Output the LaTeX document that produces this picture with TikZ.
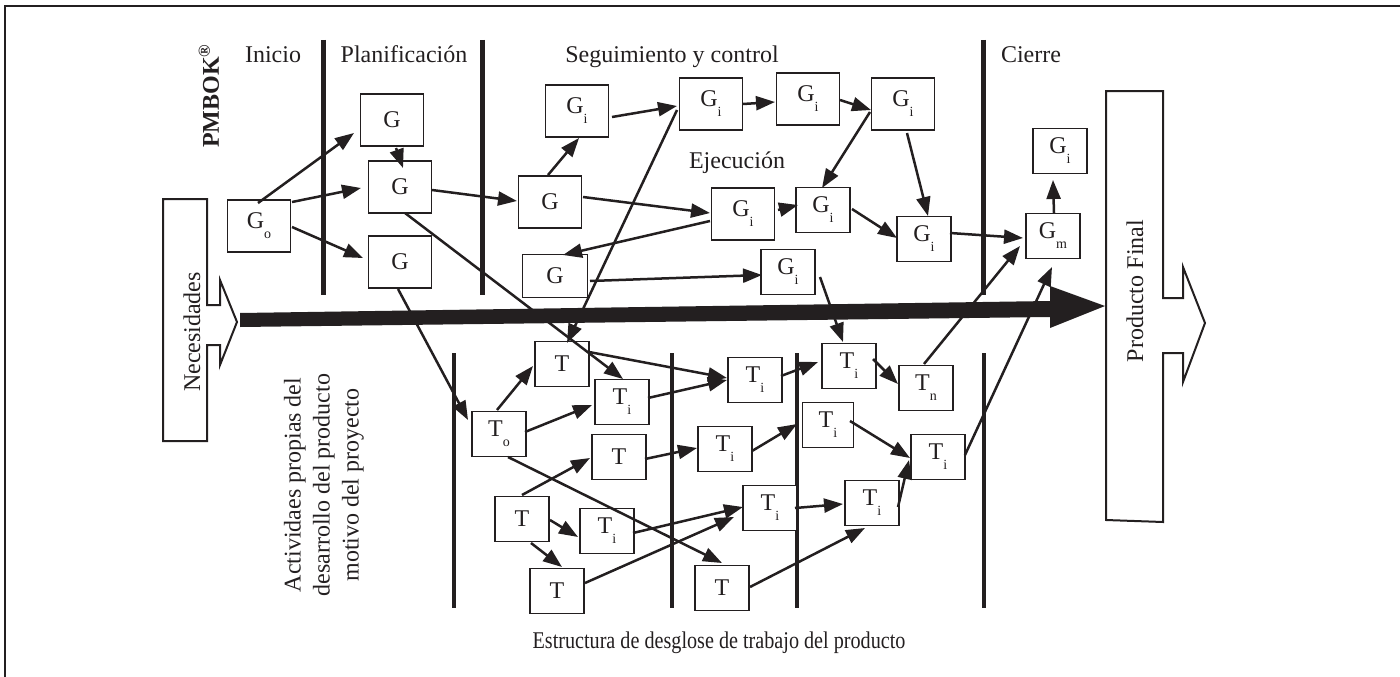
\documentclass[tikz,border=0pt]{standalone}
\usepackage{fontspec}
\setmainfont{Liberation Serif}
\usetikzlibrary{arrows.meta,calc}
\definecolor{ink}{RGB}{35,31,32}
% small lowered index letter inside a box (G_i, T_o, ...)
\newcommand\lowsub[1]{\raisebox{-10pt}{\fontsize{14}{14}\selectfont #1}}

\begin{document}
\begin{tikzpicture}[x=1pt,y=-1pt,
  box/.style={draw=ink, line width=1.9pt, fill=white, inner sep=0pt, text=ink,
              font=\fontsize{24}{24}\selectfont},
  bigbox/.style={box, minimum width=63pt, minimum height=52pt},
  smallbox/.style={box, minimum width=54pt, minimum height=45pt},
  flow/.style={draw=ink, line width=2.5pt, -{Triangle[length=19pt,width=14pt]}},
  phase/.style={draw=ink, line width=5pt},
  lowphase/.style={draw=ink, line width=4.5pt},
  lbl/.style={font=\fontsize{24}{24}\selectfont, text=ink, inner sep=0pt},
  blockarrow/.style={draw=ink, line width=2pt, line join=miter, fill=white}
]
\useasboundingbox (0,0) rectangle (1400,677);

% outer frame (top and left rule)
\draw[ink, line width=1.5pt] (5,677) -- (5,6) -- (1400,6);

% ---------- phase separators ----------
\draw[phase] (323,40) -- (323,295);
\draw[phase] (482,40) -- (482,295);
\draw[phase] (983,40) -- (983,295);
\draw[lowphase] (454,353) -- (454,608);
\draw[lowphase] (672,353) -- (672,608);
\draw[lowphase] (797,353) -- (797,608);
\draw[lowphase] (984,353) -- (984,608);

% ---------- input and output block arrows ----------
\draw[blockarrow] (163,199) -- (207,199) -- (207,305) -- (220,305) -- (220,280)
  -- (237,322) -- (220,365) -- (220,345) -- (207,345) -- (207,441) -- (163,441) -- cycle;
\node[lbl, rotate=90] (nec) at (192,332) {Necesidades};

\draw[blockarrow] (1106,91) -- (1163,91) -- (1163,298) -- (1183,298) -- (1183,267)
  -- (1205,323) -- (1183,382) -- (1183,353) -- (1163,353) -- (1163,522) -- (1106,520) -- cycle;
\node[lbl, rotate=90] (pf) at (1135,291) {Producto Final};

% ---------- main flow arrow ----------
\fill[ink] (240,313) -- (1050,301) -- (1050,286) -- (1105,306) -- (1050,328)
  -- (1050,317) -- (240,327) -- cycle;

% ---------- labels ----------
\node[lbl, rotate=90, font=\fontsize{24}{24}\selectfont\bfseries] (pmbok) at (209,96) {PMBOK\textsuperscript{®}};
\node[lbl, anchor=base] (ini) at (273,63) {Inicio};
\node[lbl, anchor=base] (plan) at (404,63) {Planificación};
\node[lbl, anchor=base] (seg) at (672,63) {Seguimiento y control};
\node[lbl, anchor=base] (cie) at (1031,63) {Cierre};
\node[lbl, anchor=base] (eje) at (737,168) {Ejecución};
\node[lbl, anchor=base] (edt) at (719,648) {\scalebox{0.84}[1]{Estructura de desglose de trabajo del producto}};
\node[lbl, rotate=90, align=center, font=\fontsize{24}{29}\selectfont] (act) at (324,485)
  {Actividaes propias del\\desarrollo del producto\\motivo del proyecto};

% ---------- management boxes ----------
\node[bigbox] (go)  at (259,226) {G\lowsub{o}};
\node[bigbox] (gp1) at (392,120) {G};
\node[bigbox] (gp2) at (400,187) {G};
\node[bigbox] (gp3) at (400,262) {G};
\node[bigbox] (ga)  at (577,111) {G\lowsub{i}};
\node[bigbox] (gb)  at (711,104) {G\lowsub{i}};
\node[bigbox] (gc)  at (808,99)  {G\lowsub{i}};
\node[bigbox] (gd)  at (903,104) {G\lowsub{i}};
\node[bigbox] (ge)  at (550,202) {G};
\node[bigbox] (gf)  at (743,214) {G\lowsub{i}};
\node[box, minimum width=65pt, minimum height=43pt] (gk) at (555,276) {G};
\node[smallbox] (gg) at (823,210) {G\lowsub{i}};
\node[smallbox] (gh) at (924,239) {G\lowsub{i}};
\node[smallbox] (gl) at (788,272) {G\lowsub{i}};
\node[smallbox] (gm) at (1053,236) {G\lowsub{m}};
\node[smallbox] (gn) at (1060,151) {G\lowsub{i}};

% ---------- product task boxes ----------
\node[smallbox] (to)  at (499,434) {T\lowsub{o}};
\node[smallbox] (t1)  at (562,364) {T};
\node[smallbox] (t2)  at (622,402) {T\lowsub{i}};
\node[smallbox] (t3)  at (619,457) {T};
\node[smallbox] (t4)  at (522,519) {T};
\node[smallbox] (t5)  at (607,531) {T\lowsub{i}};
\node[smallbox] (t6)  at (557,591) {T};
\node[smallbox] (t7)  at (755,380) {T\lowsub{i}};
\node[smallbox] (t8)  at (725,449) {T\lowsub{i}};
\node[smallbox] (t9)  at (770,508) {T\lowsub{i}};
\node[smallbox] (t10) at (722,588) {T};
\node[smallbox] (t11) at (849,366) {T\lowsub{i}};
\node[box, minimum width=51pt, minimum height=45pt] (t12) at (828,425) {T\lowsub{i}};
\node[smallbox] (t13) at (926,388) {T\lowsub{n}};
\node[smallbox] (t14) at (938,457) {T\lowsub{i}};
\node[smallbox] (t15) at (872,503) {T\lowsub{i}};

% ---------- management flows ----------
\draw[flow] ($(go)+(-1,-23)$) -- ($(gp1)+(-38,13)$);
\draw[flow] ($(go)+(33,-24)$) -- ($(gp2)+(-39,1)$);
\draw[flow] ($(go)+(33,1)$)   -- ($(gp3)+(-37,-4)$);
\draw[flow] ($(gp1)+(4,28)$)  -- ($(gp2)+(3,-19)$);
\draw[flow] ($(gp2)+(32,3)$)  -- ($(ge)+(-33,-1)$);
\draw[flow] ($(gp2)+(5,26)$)  -- ($(t2)+(1,-23)$);
\draw[flow] ($(gp3)+(-2,27)$) -- ($(to)+(-31,-14)$);
\draw[flow] ($(ge)+(-2,-27)$) -- ($(ga)+(2,27)$);
\draw[flow] ($(ga)+(35,6)$)   -- ($(gb)+(-34,2)$);
\draw[flow] ($(gb)+(32,0)$)   -- ($(gc)+(-33,3)$);
\draw[flow] ($(gc)+(32,1)$)   -- ($(gd)+(-32,6)$);
\draw[flow] ($(gd)+(-33,8)$)  -- ($(gg)+(-1,-22)$);
\draw[flow] ($(gd)+(4,29)$)   -- ($(gh)+(4,-23)$);
\draw[flow] ($(ge)+(33,-5)$)  -- ($(gf)+(-33,-1)$);
\draw[flow] ($(gf)+(35,-4)$)  -- ($(gg)+(-25,-5)$);
\draw[flow] ($(gf)+(-33,7)$)  -- ($(gk)+(8,-21)$);
\draw[flow] ($(gg)+(29,-1)$)  -- ($(gh)+(-27,-1)$);
\draw[flow] ($(gk)+(35,5)$)   -- ($(gl)+(-26,3)$);
\draw[flow] ($(gb)+(-34,6)$)  -- ($(t1)+(5,-21)$);
\draw[flow] ($(gl)+(32,5)$)   -- ($(t11)+(-6,-24)$);
\draw[flow] ($(gh)+(26,-6)$)  -- ($(gm)+(-30,2)$);
\draw[flow] ($(gm)+(1,-23)$)  -- ($(gn)+(-7,29)$);
\draw[flow] ($(t13)+(-2,-24)$) -- ($(gm)+(-33,10)$);
\draw[flow] ($(t14)+(27,-2)$) -- ($(gm)+(-1,31)$);

% ---------- task flows ----------
\draw[flow] ($(to)+(-2,-24)$) -- ($(t1)+(-29,2)$);
\draw[flow] ($(to)+(26,-2)$)  -- ($(t2)+(-30,3)$);
\draw[flow] ($(to)+(9,23)$)   -- ($(t10)+(0,-25)$);
\draw[flow] ($(t1)+(27,-12)$) -- ($(t7)+(-28,-2)$);
\draw[flow] ($(t2)+(26,-4)$)  -- ($(t7)+(-28,0)$);
\draw[flow] ($(t7)+(26,-4)$)  -- ($(t11)+(-31,-4)$);
\draw[flow] ($(t4)+(0,-24)$)  -- ($(t3)+(-29,1)$);
\draw[flow] ($(t4)+(28,1)$)   -- ($(t5)+(-29,6)$);
\draw[flow] ($(t4)+(9,24)$)   -- ($(t6)+(5,-24)$);
\draw[flow] ($(t3)+(26,2)$)   -- ($(t8)+(-28,-1)$);
\draw[flow] ($(t8)+(27,2)$)   -- ($(t12)+(-31,-1)$);
\draw[flow] ($(t5)+(26,2)$)   -- ($(t9)+(-27,-1)$);
\draw[flow] ($(t6)+(28,-8)$)  -- ($(t9)+(-36,9)$);
\draw[flow] ($(t9)+(25,0)$)   -- ($(t15)+(-29,1)$);
\draw[flow] ($(t10)+(28,-1)$) -- ($(t15)+(-7,25)$);
\draw[flow] ($(t11)+(24,-7)$) -- ($(t13)+(-28,-4)$);
\draw[flow] ($(t12)+(22,-4)$) -- ($(t14)+(-28,1)$);
\draw[flow] ($(t15)+(26,4)$)  -- ($(t14)+(-29,3)$);
\end{tikzpicture}
\end{document}
